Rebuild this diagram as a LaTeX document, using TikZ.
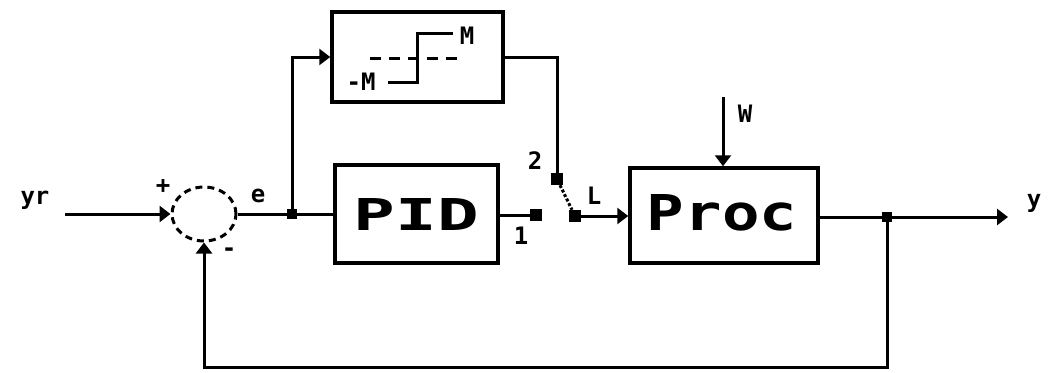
\documentclass[tikz,border=0pt]{standalone}
\usepackage{fontspec}
\setmonofont{DejaVu Sans Mono}
\usetikzlibrary{arrows.meta,shapes.geometric}
\begin{document}
\begin{tikzpicture}[x=1pt,y=-1pt,
  wire/.style={line width=3pt},
  arr/.style={wire,-{Triangle[length=11pt,width=16pt]}},
  blk/.style={draw,line width=3.5pt,rectangle,inner sep=0pt},
  pin/.style={fill,rectangle,minimum size=12pt,inner sep=0pt},
  jn/.style={fill,rectangle,minimum size=10pt,inner sep=0pt},
  lbl/.style={font=\fontsize{24}{24}\selectfont\ttfamily\bfseries,inner sep=0pt},
  big/.style={font=\ttfamily\bfseries,inner sep=0pt}]
\useasboundingbox (0,0) rectangle (1049,372);
% blocks
\node[blk,minimum width=163pt,minimum height=98pt] (pid) at (416.5,214) {};
\node[big] (pidt) at (416.5,214) {\resizebox{125pt}{32pt}{PID}};
\node[blk,minimum width=188pt,minimum height=95pt] (proc) at (724,215.5) {};
\node[big] (proct) at (722,213) {\resizebox{150pt}{36pt}{Proc}};
\node[blk,minimum width=171pt,minimum height=90pt] (sat) at (417.5,57) {};
% saturation drawing
\node[lbl] (mm) at (361,82) {-M};
\node[lbl] (mp) at (467,36) {M};
\coordinate (s1) at (388,82);
\coordinate (s2) at (417,82);
\coordinate (s3) at (417,33);
\coordinate (s4) at (453,33);
\draw[wire] (s1) -- (s2) -- (s3) -- (s4);
\coordinate (d1) at (370,58);
\coordinate (d2) at (463,58);
\draw[wire,dash pattern=on 11pt off 8pt] (d1) -- (d2);
% summing junction
\node[draw,ellipse,line width=3pt,dash pattern=on 7pt off 5pt,minimum width=64pt,minimum height=54pt,inner sep=0pt] (sum) at (204,214) {};
\node[lbl] (plus) at (163,187) {+};
\node[lbl] (minus) at (229,252) {-};
% points
\node[jn] (je) at (292,214) {};
\node[jn] (jy) at (887,217) {};
\node[pin] (p1) at (536,215) {};
\node[pin] (p2) at (557,179) {};
\node[pin] (pc) at (575,216) {};
\coordinate (yrs) at (65,214);
\coordinate (ye) at (1008,217);
\coordinate (ws) at (723,97);
\coordinate (fb) at (887,367);
% labels
\node[lbl] (yr) at (35,200) {yr};
\node[lbl] (yo) at (1034,203) {y};
\node[lbl] (e) at (258,196) {e};
\node[lbl] (l1) at (521,236) {1};
\node[lbl] (l2) at (535,161) {2};
\node[lbl] (ll) at (594,196) {L};
\node[lbl] (lw) at (745,114) {W};
% connections
\draw[arr] (yrs) -- (sum.west);
\draw[wire] (sum.east) -- (je);
\draw[wire] (je) -- (pid.west);
\draw[arr] (je) |- (sat.west);
\draw[wire] (pid.east |- p1) -- (p1);
\draw[wire] (sat.east) -| (p2);
\draw[wire,dotted] (p2) -- (pc);
\draw[arr] (pc) -- (proc.west |- pc);
\draw[arr] (ws) -- (proc.north -| ws);
\draw[wire] (proc.east |- jy) -- (jy);
\draw[arr] (jy) -- (ye);
\draw[arr] (jy) -- (fb) -| (sum.south);
\end{tikzpicture}
\end{document}
